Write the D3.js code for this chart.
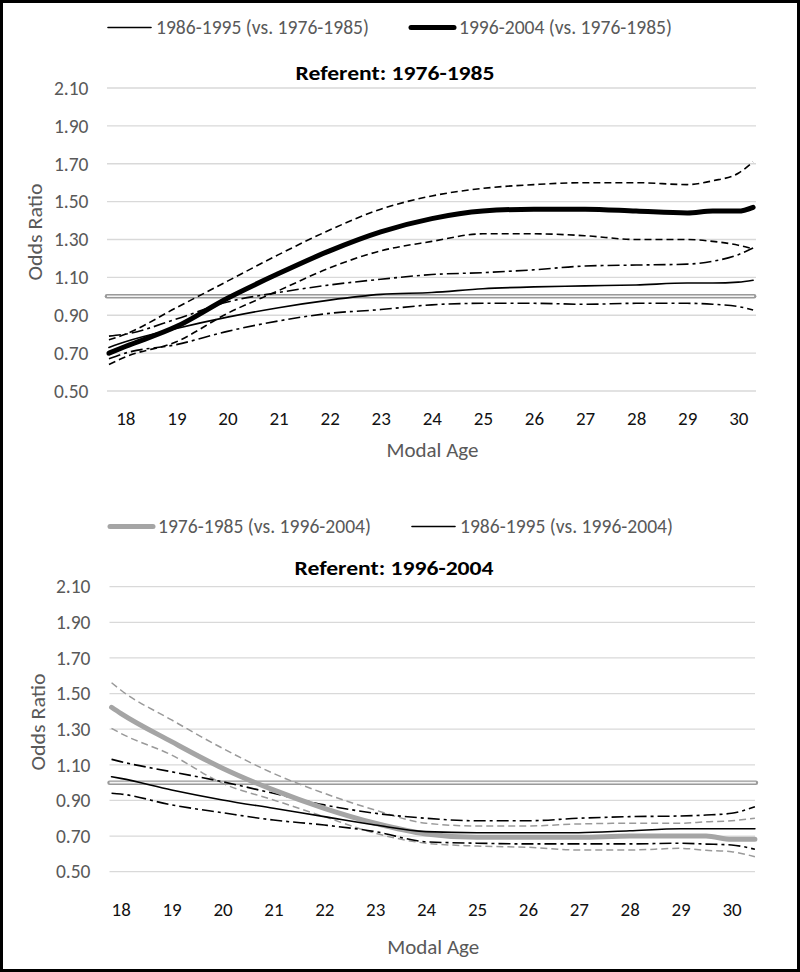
<!DOCTYPE html>
<html>
<head>
<meta charset="utf-8">
<script src="https://cdn.jsdelivr.net/npm/d3@7"></script>
<style>
  body { margin: 0; background: #fff; }
  text { font-family: Carlito, 'Open Sans', 'Noto Sans', sans-serif; }
</style>
</head>
<body>
<div id="graph"></div>
<script>
// Modal age sample points (each panel's lines start/end a bit differently)
const agesTop = [17.68, 18, 19, 20, 21, 22, 23, 24, 25, 26, 27, 28, 29, 29.5, 30, 30.29]
const agesBottom = [17.82, 18, 19, 20, 21, 22, 23, 24, 25, 26, 27, 28, 29, 29.5, 30, 30.46]

const yTicks = [0.5, 0.7, 0.9, 1.1, 1.3, 1.5, 1.7, 1.9, 2.1]
const xTicks = [18, 19, 20, 21, 22, 23, 24, 25, 26, 27, 28, 29, 30]

// Referent 1976-1985
const est86 = [0.73, 0.76, 0.83, 0.89, 0.94, 0.98, 1.01, 1.02, 1.04, 1.05, 1.055, 1.06, 1.07, 1.07, 1.075, 1.085]
const upper86 = [0.79, 0.80, 0.88, 0.97, 1.02, 1.06, 1.09, 1.115, 1.125, 1.14, 1.16, 1.165, 1.17, 1.185, 1.22, 1.255]
const lower86 = [0.67, 0.70, 0.745, 0.815, 0.87, 0.91, 0.93, 0.955, 0.963, 0.963, 0.958, 0.963, 0.963, 0.958, 0.946, 0.928]
const est96 = [0.70, 0.735, 0.84, 0.99, 1.12, 1.24, 1.34, 1.41, 1.45, 1.46, 1.46, 1.45, 1.44, 1.45, 1.45, 1.47]
const upper96 = [0.77, 0.80, 0.94, 1.08, 1.22, 1.35, 1.46, 1.53, 1.57, 1.59, 1.60, 1.60, 1.59, 1.61, 1.65, 1.71]
const lower96 = [0.64, 0.68, 0.76, 0.91, 1.03, 1.15, 1.24, 1.29, 1.33, 1.33, 1.32, 1.30, 1.30, 1.29, 1.27, 1.25]

// Referent 1996-2004
const est76b = [1.423, 1.389, 1.23, 1.081, 0.959, 0.856, 0.772, 0.712, 0.693, 0.693, 0.693, 0.70, 0.70, 0.70, 0.682, 0.682]
const upper76b = [1.561, 1.52, 1.352, 1.193, 1.052, 0.94, 0.846, 0.772, 0.757, 0.757, 0.768, 0.772, 0.772, 0.78, 0.786, 0.80]
const lower76b = [1.305, 1.277, 1.155, 0.996, 0.903, 0.809, 0.716, 0.66, 0.644, 0.637, 0.622, 0.622, 0.631, 0.62, 0.612, 0.584]
const est86b = [1.033, 1.024, 0.959, 0.903, 0.856, 0.809, 0.762, 0.725, 0.719, 0.719, 0.719, 0.73, 0.741, 0.741, 0.741, 0.741]
const upper86b = [1.131, 1.118, 1.061, 1.005, 0.94, 0.875, 0.828, 0.80, 0.786, 0.786, 0.80, 0.809, 0.813, 0.818, 0.828, 0.865]
const lower86b = [0.94, 0.936, 0.875, 0.831, 0.79, 0.762, 0.725, 0.668, 0.66, 0.656, 0.656, 0.656, 0.66, 0.655, 0.65, 0.626]

const width = 800, height = 972

const svg = d3.select('#graph')
  .append('svg')
  .attr('width', width)
  .attr('height', height)

svg.append('rect')
  .attr('x', 1.5).attr('y', 1.5)
  .attr('width', width - 3).attr('height', height - 3)
  .attr('fill', '#fff')
  .attr('stroke', '#000')
  .attr('stroke-width', 3)

const styles = {
  thin: { stroke: '#000', width: 1.6, dash: null },
  thick: { stroke: '#000', width: 5, dash: null },
  thickGray: { stroke: '#a5a5a5', width: 5, dash: null },
  dashed: { stroke: '#000', width: 1.6, dash: '7,4' },
  dashedGray: { stroke: '#9a9a9a', width: 1.5, dash: '7,4' },
  dashDot: { stroke: '#000', width: 1.6, dash: '12,4,3,4' }
}

function drawPanel(p) {
  const x = d3.scaleLinear().domain([18, 30]).range(p.xRange)
  const y = d3.scaleLinear().domain([0.5, 2.1]).range(p.yRange)
  const g = svg.append('g')

  // gridlines
  g.selectAll('.grid')
    .data(yTicks)
    .join('line')
    .attr('x1', p.gridX[0]).attr('x2', p.gridX[1])
    .attr('y1', d => y(d)).attr('y2', d => y(d))
    .attr('stroke', '#d9d9d9')
    .attr('stroke-width', 1.3)

  // y axis labels
  g.append('g')
    .attr('transform', 'translate(' + p.yLabelX + ',0)')
    .call(d3.axisLeft(y).tickValues(yTicks).tickFormat(d3.format('.2f')).tickSize(0).tickPadding(0))
    .call(a => a.select('.domain').remove())
    .selectAll('text')
    .attr('fill', '#595959')
    .style('font-size', '19.5px')

  // x axis labels
  g.append('g')
    .attr('transform', 'translate(0,' + p.xLabelY + ')')
    .call(d3.axisBottom(x).tickValues(xTicks).tickSize(0).tickPadding(0))
    .call(a => a.select('.domain').remove())
    .selectAll('text')
    .attr('fill', '#111')
    .attr('dy', '0.35em')
    .style('font-size', '19px')

  // reference line at 1.00
  const ages = p.ages
  const x0 = x(ages[0]) - 2, x1 = x(ages[ages.length - 1]) + 1
  g.append('line')
    .attr('x1', x0).attr('x2', x1).attr('y1', y(1)).attr('y2', y(1))
    .attr('stroke', '#9a9a9a').attr('stroke-width', 4.5).attr('stroke-linecap', 'round')
  g.append('line')
    .attr('x1', x0).attr('x2', x1).attr('y1', y(1)).attr('y2', y(1))
    .attr('stroke', '#f4f4f4').attr('stroke-width', 1.6)

  const line = d3.line()
    .x((d, i) => x(ages[i]))
    .y(d => y(d))
    .curve(d3.curveMonotoneX)

  p.series.forEach(s => {
    const st = styles[s.style]
    g.append('path')
      .datum(s.values)
      .attr('fill', 'none')
      .attr('stroke', st.stroke)
      .attr('stroke-width', st.width)
      .attr('stroke-dasharray', st.dash)
      .attr('stroke-linejoin', 'round')
      .attr('stroke-linecap', st.dash ? 'butt' : 'round')
      .attr('d', line)
  })

  // title
  g.append('text')
    .attr('x', p.titleX).attr('y', p.titleY)
    .attr('text-anchor', 'middle')
    .attr('dy', '0.35em')
    .attr('textLength', 199)
    .attr('lengthAdjust', 'spacingAndGlyphs')
    .style('font-size', '21px')
    .style('font-weight', 'bold')
    .attr('fill', '#000')
    .text(p.title)

  // axis titles
  g.append('text')
    .attr('x', (p.gridX[0] + p.gridX[1]) / 2 + 1).attr('y', p.xTitleY)
    .attr('text-anchor', 'middle')
    .attr('dy', '0.35em')
    .attr('textLength', 92)
    .attr('lengthAdjust', 'spacingAndGlyphs')
    .style('font-size', '21px')
    .attr('fill', '#595959')
    .text('Modal Age')

  g.append('text')
    .attr('transform', 'translate(' + p.yTitle[0] + ',' + p.yTitle[1] + ') rotate(-90)')
    .attr('text-anchor', 'middle')
    .attr('dy', '0.35em')
    .attr('textLength', 97)
    .attr('lengthAdjust', 'spacingAndGlyphs')
    .style('font-size', '21px')
    .attr('fill', '#595959')
    .text('Odds Ratio')

  // legend
  p.legend.forEach(l => {
    const st = styles[l.style]
    g.append('line')
      .attr('x1', l.x).attr('x2', l.x + 43)
      .attr('y1', p.legendY).attr('y2', p.legendY)
      .attr('stroke', st.stroke)
      .attr('stroke-width', st.width)
      .attr('stroke-linecap', 'round')
    g.append('text')
      .attr('x', l.x + 48).attr('y', p.legendY)
      .attr('dy', '0.35em')
      .attr('textLength', 213)
      .attr('lengthAdjust', 'spacingAndGlyphs')
      .style('font-size', '19.5px')
      .attr('fill', '#595959')
      .text(l.label)
  })
}

drawPanel({
  ages: agesTop,
  xRange: [125.3, 738.3],
  yRange: [391, 88],
  gridX: [107, 756],
  yLabelX: 88.5,
  xLabelY: 418,
  xTitleY: 450,
  yTitle: [35, 232],
  title: 'Referent: 1976-1985',
  titleX: 395, titleY: 73,
  legendY: 27.5,
  legend: [
    { x: 108, style: 'thin', label: '1986-1995 (vs. 1976-1985)' },
    { x: 411, style: 'thick', label: '1996-2004 (vs. 1976-1985)' }
  ],
  series: [
    { values: upper96, style: 'dashed' },
    { values: lower96, style: 'dashed' },
    { values: upper86, style: 'dashDot' },
    { values: lower86, style: 'dashDot' },
    { values: est86, style: 'thin' },
    { values: est96, style: 'thick' }
  ]
})

drawPanel({
  ages: agesBottom,
  xRange: [120.7, 731.5],
  yRange: [871.7, 586.7],
  gridX: [109.5, 755],
  yLabelX: 90.5,
  xLabelY: 909,
  xTitleY: 947,
  yTitle: [38, 722],
  title: 'Referent: 1996-2004',
  titleX: 394, titleY: 568,
  legendY: 526.5,
  legend: [
    { x: 110, style: 'thickGray', label: '1976-1985 (vs. 1996-2004)' },
    { x: 412, style: 'thin', label: '1986-1995 (vs. 1996-2004)' }
  ],
  series: [
    { values: upper76b, style: 'dashedGray' },
    { values: lower76b, style: 'dashedGray' },
    { values: upper86b, style: 'dashDot' },
    { values: lower86b, style: 'dashDot' },
    { values: est76b, style: 'thickGray' },
    { values: est86b, style: 'thin' }
  ]
})
</script>
</body>
</html>
